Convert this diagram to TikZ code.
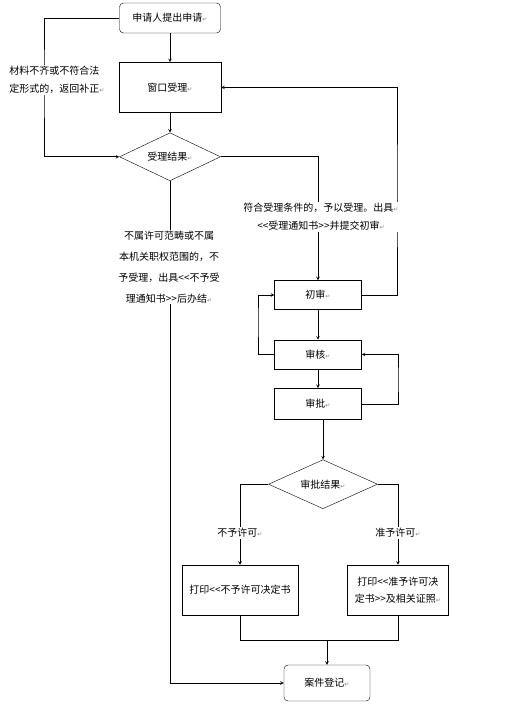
\documentclass[tikz,border=0pt]{standalone}
\usepackage{fontspec}
\setmainfont[Ligatures=TeXOff]{Noto Sans CJK SC}
\newfontfamily\markfont{DejaVu Sans}
\usetikzlibrary{shapes.geometric,positioning}
\newcommand{\pmark}{{\markfont\fontsize{6}{6}\selectfont\color{gray}↵}}

\begin{document}
\begin{tikzpicture}[x=1pt,y=-1pt]

  % Definitions
  \tikzstyle{Terminal} = [rectangle, rounded corners=4pt, minimum width=101pt, minimum height=30pt, text centered, draw=black, font=\fontsize{10}{12}\selectfont]
  \tikzstyle{Process} = [rectangle, minimum width=87pt, minimum height=29pt, text centered, draw=black, font=\fontsize{10}{12}\selectfont]
  \tikzstyle{Decision} = [diamond, aspect=2, inner sep=0pt, text centered, draw=black, font=\fontsize{10}{12}\selectfont]
  \tikzstyle{Note} = [fill=white, inner sep=1pt, font=\fontsize{10}{18}\selectfont]
  \tikzstyle{arrow} = [line width=0.6pt,->,>=stealth]
  \tikzstyle{line} = [line width=0.6pt]

  \useasboundingbox (0,0) rectangle (510,714);

  \node (apply) [Terminal] at (170,18) {申请人提出申请\pmark};
  \node (window) [Process, minimum width=102pt, minimum height=50pt, below=29pt of apply] {窗口受理\pmark};
  \node (accept) [Decision, minimum width=101pt, minimum height=48pt, below=20pt of window] {受理结果\pmark};

  \node (first) [Process] at (318,295) {初审\pmark};
  \node (review) [Process, below=30pt of first] {审核\pmark};
  \node (approve) [Process, minimum height=31pt, below=19pt of review] {审批\pmark};
  \node (result) [Decision, minimum width=109pt, minimum height=49pt, below=40pt of approve, xshift=5pt] {审批结果\pmark};

  \node (deny) [Process, minimum width=116pt, minimum height=50pt] at (240,590) {打印<<不予许可决定书};
  \node (grant) [Process, minimum width=101pt, minimum height=50pt, align=center, font=\fontsize{10}{17}\selectfont, right=49pt of deny] {打印<<准予许可决\\定书>>及相关证照\pmark};
  \node (register) [Terminal, minimum width=86pt, minimum height=36pt] at (327,683) {案件登记\pmark};

  \coordinate (backL) at (44,80);
  \coordinate (loopR) at (397,200);
  \coordinate (loopA) at (258,320);
  \coordinate (loopB) at (398,380);
  \coordinate (join) at (327,640);

  \draw [arrow] (apply) -- (window);
  \draw [arrow] (window) -- (accept);
  \draw [arrow] (apply.west) -| (backL) |- (accept.west);
  \draw [arrow] (accept.east) -| (first.north);
  \draw [arrow] (accept.south) |- (register.west);
  \draw [arrow] (first.east) -| (loopR) |- (window.east);
  \draw [arrow] (first) -- (review);
  \draw [arrow] (review) -- (approve);
  \draw [arrow] (review.west) -| (loopA) |- (first.west);
  \draw [arrow] (approve.east) -| (loopB) |- (review.east);
  \draw [arrow] (approve.south -| result.north) -- (result.north);
  \draw [arrow] (result.west) -| (deny.north);
  \draw [arrow] (result.east) -| (grant.north);
  \draw [line] (deny.south) |- (join);
  \draw [line] (grant.south) |- (join);
  \draw [arrow] (join) -- (register.north);

  % labels on the connectors
  \node (lbReturn) [Note, align=left] at (57,80) {材料不齐或不符合法\\定形式的，返回补正\pmark};
  \node (lbAccept) [Note, align=center] at (321,217) {符合受理条件的，予以受理。出具\pmark\\<<受理通知书>>并提交初审\pmark};
  \node (lbReject) [Note, align=center, font=\fontsize{10}{21}\selectfont] at (169,267) {不属许可范畴或不属\\本机关职权范围的，不\\予受理，出具<<不予受\\理通知书>>后办结\pmark};
  \node (lbDeny) [Note] at (240,533) {不予许可\pmark};
  \node (lbGrant) [Note] at (398,533) {准予许可\pmark};

\end{tikzpicture}
\end{document}
